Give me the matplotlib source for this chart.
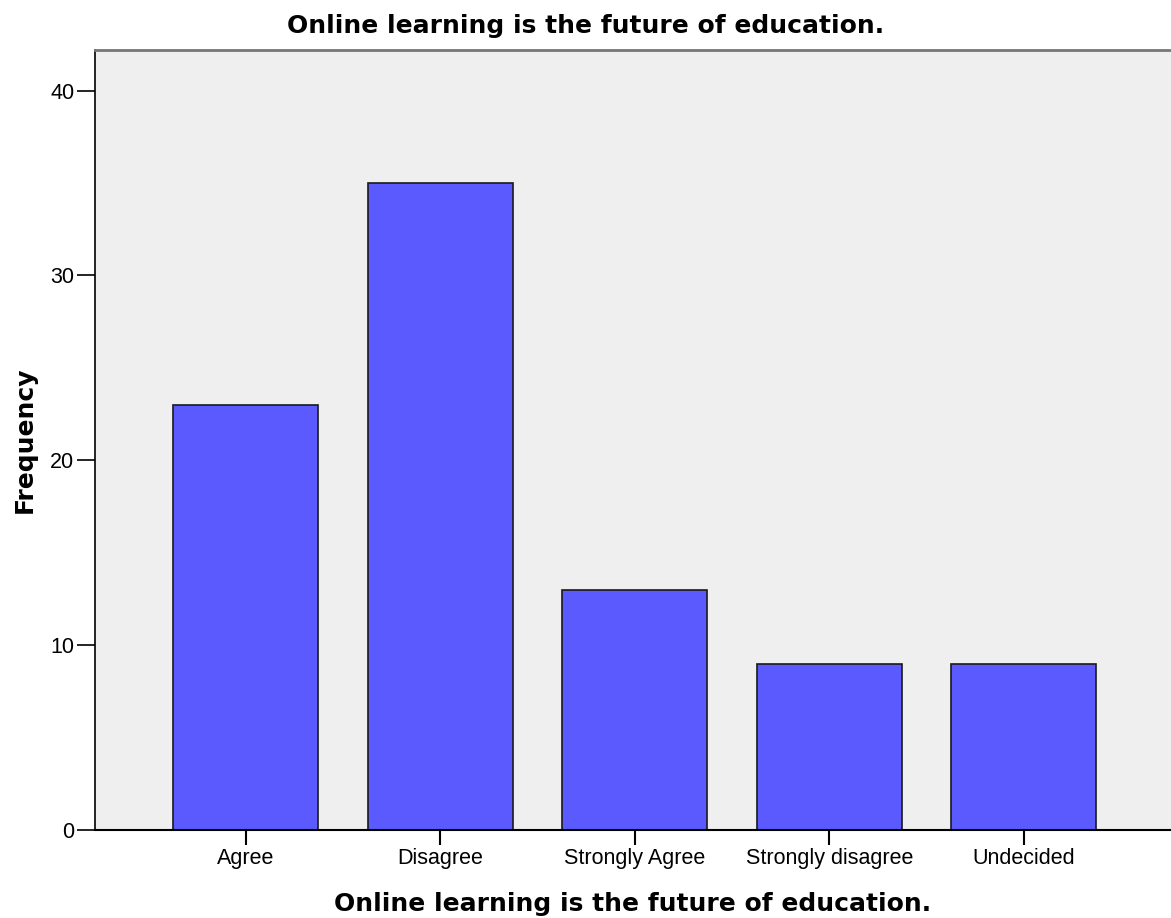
import matplotlib.pyplot as plt

categories = ["Agree", "Disagree", "Strongly Agree", "Strongly disagree", "Undecided"]
frequency = [23, 35, 13, 9, 9]
y_ticks = [0, 10, 20, 30, 40]
title = "Online learning is the future of education."

plt.rcParams['font.family'] = ['Liberation Sans', 'DejaVu Sans']

W, H = 1171, 918
fig = plt.figure(figsize=(W / 100, H / 100), dpi=100)
ax = fig.add_axes([95 / W, 88 / H, 1 - 95 / W, 780 / H])
ax.set_facecolor('#efefef')

x = range(len(categories))
ax.bar(x, frequency, width=0.746, color='#5a5aff', edgecolor='#1a1a1a', linewidth=1.2, zorder=2)

ax.set_xlim(-0.774, 4.756)
ax.set_ylim(0, 42.2)
ax.set_yticks(y_ticks)
ax.set_xticks(list(x))
ax.set_xticklabels(categories, fontsize=15.5)
ax.tick_params(axis='y', labelsize=15.5, length=13, width=1.2, pad=2)
ax.tick_params(axis='x', length=11, width=1.5, pad=2)

ax.spines['right'].set_visible(False)
ax.spines['top'].set_color('#777777')
ax.spines['top'].set_linewidth(2)
ax.spines['left'].set_linewidth(1.2)
ax.spines['bottom'].set_linewidth(1.5)

bold = dict(family='DejaVu Sans', fontweight='bold', fontsize=18)
fig.text(25 / W, 1 - 440 / H, "Frequency", rotation=90, ha='center', va='center', **bold)
fig.text(633 / W, 1 - 911 / H, title, ha='center', va='baseline', **bold)
fig.text(0.5, 1 - 33 / H, title, ha='center', va='baseline', **bold)

fig.savefig("out.png", dpi=100)
